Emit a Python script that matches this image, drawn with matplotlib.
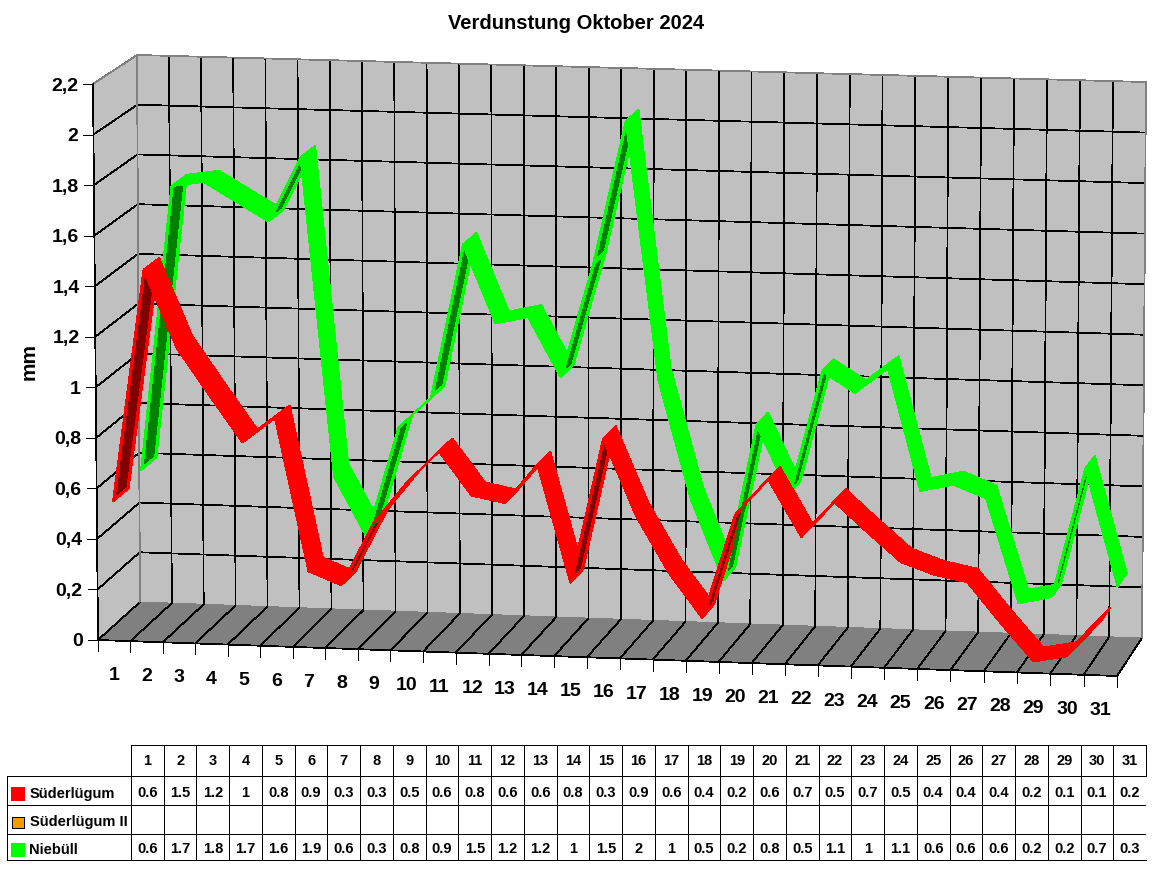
import numpy as np
import matplotlib
matplotlib.use("Agg")
import matplotlib.pyplot as plt
from matplotlib.patches import Polygon, Rectangle

plt.rcParams['font.family'] = ['Liberation Sans', 'DejaVu Sans']
plt.rcParams['font.weight'] = 'bold'

days = list(range(1, 32))
y_ticks = [0, 0.2, 0.4, 0.6, 0.8, 1, 1.2, 1.4, 1.6, 1.8, 2, 2.2]
y_labels = ['0', '0,2', '0,4', '0,6', '0,8', '1', '1,2', '1,4', '1,6', '1,8', '2', '2,2']

suederluegum = [0.55, 1.47, 1.165, 0.98, 0.80, 0.90, 0.30, 0.25, 0.50, 0.66, 0.79, 0.62, 0.595, 0.75, 0.29, 0.86,
                0.56, 0.34, 0.17, 0.58, 0.72, 0.50, 0.64, 0.525, 0.415, 0.37, 0.345, 0.19, 0.045, 0.07, 0.21]
niebuell = [0.58, 1.72, 1.74, 1.665, 1.59, 1.85, 0.58, 0.345, 0.785, 0.905, 1.52, 1.21, 1.24, 1.005, 1.46, 2.03,
            1.005, 0.535, 0.22, 0.84, 0.57, 1.06, 0.98, 1.08, 0.60, 0.63, 0.58, 0.17, 0.20, 0.71, 0.25]

# rounded values printed in the table
table_rows = ['Süderlügum', 'Süderlügum II', 'Niebüll']
table_suederluegum = ['0.6', '1.5', '1.2', '1', '0.8', '0.9', '0.3', '0.3', '0.5', '0.6', '0.8', '0.6', '0.6', '0.8', '0.3', '0.9',
                      '0.6', '0.4', '0.2', '0.6', '0.7', '0.5', '0.7', '0.5', '0.4', '0.4', '0.4', '0.2', '0.1', '0.1', '0.2']
table_suederluegum2 = [''] * 31
table_niebuell = ['0.6', '1.7', '1.8', '1.7', '1.6', '1.9', '0.6', '0.3', '0.8', '0.9', '1.5', '1.2', '1.2', '1', '1.5', '2',
                  '1', '0.5', '0.2', '0.8', '0.5', '1.1', '1', '1.1', '0.6', '0.6', '0.6', '0.2', '0.2', '0.7', '0.3']

WALL = '#C0C0C0'
FLOOR = '#808080'
VMAX = 2.2
NDAYS = 31
THIN = 0.55

# chart box corners in pixels, index = [right, top, back]
corners = np.zeros((2, 2, 2, 2))
corners[0, 0, 0] = (98, 640)
corners[1, 0, 0] = (1117, 676)
corners[0, 0, 1] = (140, 602)
corners[1, 0, 1] = (1142, 638)
corners[0, 1, 0] = (93, 84)
corners[1, 1, 0] = (1120, 111)
corners[0, 1, 1] = (137, 55)
corners[1, 1, 1] = (1146, 82)


def project(u, v, w):
    """
    Map slot position u (0-31), value v and depth w (0-1) to pixels
    """
    s, t = u / NDAYS, v / VMAX
    s = s * (1 - 0.016 * (1 - s))  # cells get a bit wider to the right
    p = np.zeros(2)
    for i, a in enumerate((1 - s, s)):
        for j, b in enumerate((1 - t, t)):
            for k, c in enumerate((1 - w, w)):
                p += a * b * c * corners[i, j, k]
    return p


def line3d(ax, start, end, color='black', lw=THIN):
    p = np.array([project(*start), project(*end)])
    ax.plot(p[:, 0], p[:, 1], color=color, lw=lw, antialiased=False, solid_capstyle='butt', zorder=2)


def draw_box(ax):
    back = [project(0, 0, 1), project(NDAYS, 0, 1), project(NDAYS, VMAX, 1), project(0, VMAX, 1)]
    left = [project(0, 0, 0), project(0, 0, 1), project(0, VMAX, 1), project(0, VMAX, 0)]
    floor = [project(0, 0, 0), project(NDAYS, 0, 0), project(NDAYS, 0, 1), project(0, 0, 1)]
    ax.add_patch(Polygon(back, closed=True, fc=WALL, ec='none', antialiased=False, zorder=1))
    ax.add_patch(Polygon(left, closed=True, fc=WALL, ec='none', antialiased=False, zorder=1))
    ax.add_patch(Polygon(floor, closed=True, fc=FLOOR, ec='none', antialiased=False, zorder=1))

    for v in y_ticks[1:-1]:
        line3d(ax, (0, v, 0), (0, v, 1))
        line3d(ax, (0, v, 1), (NDAYS, v, 1))
    for k in range(1, NDAYS):
        line3d(ax, (k, 0, 1), (k, VMAX, 1))
    for k in range(0, NDAYS + 1):
        line3d(ax, (k, 0, 0), (k, 0, 1))

    # grey outline of the walls
    line3d(ax, (0, 0, 1), (0, VMAX, 1), FLOOR)
    line3d(ax, (NDAYS, 0, 1), (NDAYS, VMAX, 1), FLOOR)
    line3d(ax, (0, VMAX, 1), (NDAYS, VMAX, 1), FLOOR)
    line3d(ax, (0, VMAX, 0), (0, VMAX, 1), FLOOR)

    # axes
    line3d(ax, (0, 0, 0), (0, VMAX, 0))
    line3d(ax, (0, 0, 0), (NDAYS, 0, 0))


def draw_ticks(ax):
    for v, label in zip(y_ticks, y_labels):
        x, y = project(0, v, 0)
        ax.plot([x - 10, x], [y, y], color='black', lw=THIN, antialiased=False, zorder=2)
        ax.text(x - 15, y + 2, label, ha='right', va='center', fontsize=14)
    for k in range(NDAYS + 1):
        x, y = project(k, 0, 0)
        ax.plot([x, x], [y, y + 11], color='black', lw=THIN, antialiased=False, zorder=2)
    for i, d in enumerate(days):
        x, y = project(i + 0.5, 0, 0)
        ax.text(x, y + 35, str(d), ha='center', va='center', fontsize=14)


def draw_ribbon(ax, values, w0, w1, color, dark):
    """
    One flat band per day pair, left to right. Bands seen from below get a dark inner face
    """
    for i in range(len(values) - 1):
        f1 = project(i + 0.5, values[i], w0)
        f2 = project(i + 1.5, values[i + 1], w0)
        b1 = project(i + 0.5, values[i], w1)
        b2 = project(i + 1.5, values[i + 1], w1)
        z = 3 + i * 0.01
        ax.add_patch(Polygon([f1, f2, b2, b1], closed=True, fc=color, ec=color, lw=0.6,
                             antialiased=False, zorder=z))
        a = f2 - f1
        b = b1 - f1
        cross = a[0] * b[1] - a[1] * b[0]
        if cross <= 0:
            continue
        inset = 2.8
        tf = inset / (cross / np.hypot(*a))
        sf = inset / (cross / np.hypot(*b))
        if tf >= 0.5 or sf >= 0.5:
            continue
        inner = [f1 + a * sf + b * tf, f2 - a * sf + b * tf,
                 f2 - a * sf + b * (1 - tf), f1 + a * sf + b * (1 - tf)]
        ax.add_patch(Polygon(inner, closed=True, fc=dark, ec='none', antialiased=False, zorder=z + 0.001))


def draw_table(ax):
    left, first, right = 7, 131, 1146
    rows_y = [745, 776, 805, 833.5, 860]
    col_w = (right - first) / NDAYS
    ax.plot([first, right], [rows_y[0], rows_y[0]], color='black', lw=THIN, antialiased=False)
    ax.plot([left, right], [rows_y[1], rows_y[1]], color='black', lw=THIN, antialiased=False)
    ax.plot([left, right - 1.5], [rows_y[2], rows_y[2]], color='black', lw=THIN, antialiased=False)
    ax.plot([left, right - 1.5], [rows_y[3], rows_y[3]], color='black', lw=THIN, antialiased=False)
    ax.plot([left, right], [rows_y[4], rows_y[4]], color='black', lw=THIN, antialiased=False)
    ax.plot([left, left], [rows_y[1], rows_y[-1]], color='black', lw=THIN, antialiased=False)
    for k in range(NDAYS):
        x = first + k * col_w
        ax.plot([x, x], [rows_y[0], rows_y[-1]], color='black', lw=THIN, antialiased=False)
    # the right border only closes the header row
    ax.plot([right, right], [rows_y[0], rows_y[1]], color='black', lw=THIN, antialiased=False)

    for i, d in enumerate(days):
        x = first + (i + 0.5) * col_w
        ax.text(x, 761, str(d), ha='center', va='center', fontsize=10.5)

    columns = [table_suederluegum, table_suederluegum2, table_niebuell]
    text_y = [793, 821, 849]
    for name, col, y in zip(table_rows, columns, text_y):
        ax.text(29.5, y + 1, name, ha='left', va='center', fontsize=10.5)
        for i, val in enumerate(col):
            ax.text(first + (i + 0.5) * col_w, y, val, ha='center', va='center', fontsize=10.5)

    ax.add_patch(Rectangle((11, 786.5), 14, 14, fc='#FF0000', ec='none', antialiased=False))
    ax.add_patch(Rectangle((12, 817), 12, 11, fc='#FF9900', ec='black', lw=THIN, antialiased=False))
    ax.add_patch(Rectangle((11, 842.5), 14, 14, fc='#00FF00', ec='none', antialiased=False))


def main():
    fig = plt.figure(figsize=(11.52, 8.82), dpi=100, facecolor='white')
    ax = fig.add_axes([0, 0, 1, 1])
    ax.set_xlim(0, 1152)
    ax.set_ylim(882, 0)
    ax.axis('off')

    draw_box(ax)
    draw_ticks(ax)
    draw_ribbon(ax, niebuell, 2 / 3, 1.03, '#00FF00', '#008000')
    draw_ribbon(ax, suederluegum, 0.0, 0.37, '#FF0000', '#800000')
    draw_table(ax)

    ax.text(576, 23.5, 'Verdunstung Oktober 2024', ha='center', va='center', fontsize=14.5)
    ax.text(29, 362, 'mm', rotation=90, ha='center', va='center', fontsize=15)

    fig.savefig('out.png', dpi=100)


if __name__ == "__main__":
    main()
